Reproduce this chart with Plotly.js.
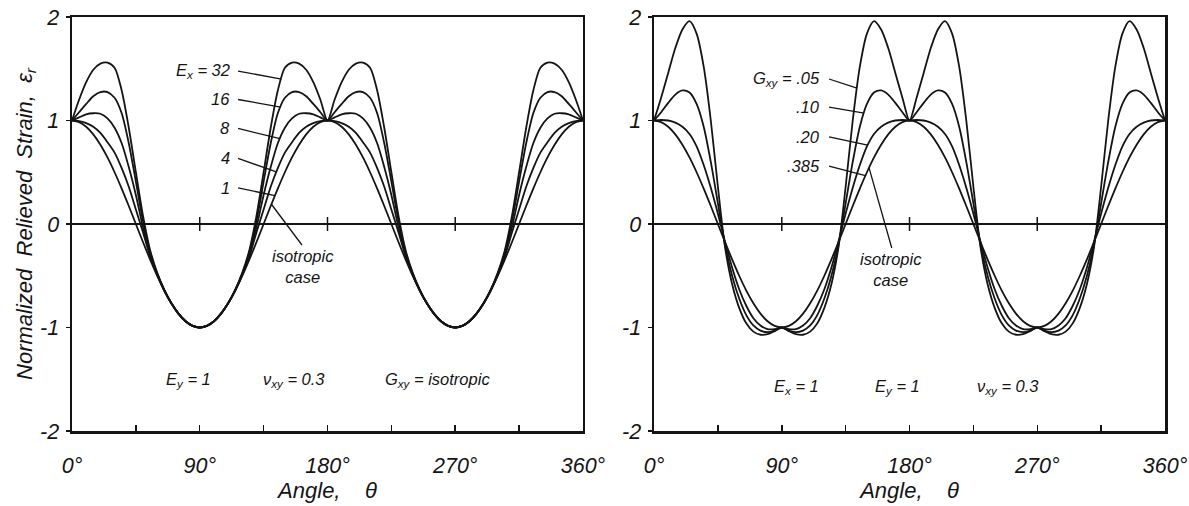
<!DOCTYPE html>
<html>
<head>
<meta charset="utf-8">
<script src="https://cdn.plot.ly/plotly-3.0.1.min.js"></script>
<style>
html,body{margin:0;padding:0;background:#ffffff;}
#chart{width:1189px;height:506px;}
</style>
</head>
<body>
<div id="chart"></div>
<script>
// ---------- data ----------
const angles = [0,5,10,15,20,25,30,35,40,45,50,55,60,65,70,75,80,85,90,
  95,100,105,110,115,120,125,130,135,140,145,150,155,160,165,170,175,180,
  185,190,195,200,205,210,215,220,225,230,235,240,245,250,255,260,265,270,
  275,280,285,290,295,300,305,310,315,320,325,330,335,340,345,350,355,360];

// Left panel: Ey = 1, nu_xy = 0.3, Gxy isotropic
const exNames = ['32','16','8','4','1'];
const ex32 = [1,1.2,1.37,1.49,1.55,1.56,1.51,1.29,0.93,0.50,0.08,-0.25,-0.47,-0.635,-0.766,-0.866,-0.94,-0.985,-1,
  -0.985,-0.94,-0.866,-0.766,-0.635,-0.47,-0.25,0.08,0.50,0.93,1.29,1.51,1.56,1.55,1.49,1.37,1.2,1,
  1.2,1.37,1.49,1.55,1.56,1.51,1.29,0.93,0.50,0.08,-0.25,-0.47,-0.635,-0.766,-0.866,-0.94,-0.985,-1,
  -0.985,-0.94,-0.866,-0.766,-0.635,-0.47,-0.25,0.08,0.50,0.93,1.29,1.51,1.56,1.55,1.49,1.37,1.2,1];
const ex16 = [1,1.08,1.16,1.235,1.275,1.275,1.22,1.07,0.78,0.41,0.03,-0.27,-0.48,-0.64,-0.766,-0.866,-0.94,-0.985,-1,
  -0.985,-0.94,-0.866,-0.766,-0.64,-0.48,-0.27,0.03,0.41,0.78,1.07,1.22,1.275,1.275,1.235,1.16,1.08,1,
  1.08,1.16,1.235,1.275,1.275,1.22,1.07,0.78,0.41,0.03,-0.27,-0.48,-0.64,-0.766,-0.866,-0.94,-0.985,-1,
  -0.985,-0.94,-0.866,-0.766,-0.64,-0.48,-0.27,0.03,0.41,0.78,1.07,1.22,1.275,1.275,1.235,1.16,1.08,1];
const ex8 = [1,1.03,1.06,1.07,1.065,1.02,0.93,0.78,0.55,0.28,-0.03,-0.30,-0.49,-0.64,-0.766,-0.866,-0.94,-0.985,-1,
  -0.985,-0.94,-0.866,-0.766,-0.64,-0.49,-0.30,-0.03,0.28,0.55,0.78,0.93,1.02,1.065,1.07,1.06,1.03,1,
  1.03,1.06,1.07,1.065,1.02,0.93,0.78,0.55,0.28,-0.03,-0.30,-0.49,-0.64,-0.766,-0.866,-0.94,-0.985,-1,
  -0.985,-0.94,-0.866,-0.766,-0.64,-0.49,-0.30,-0.03,0.28,0.55,0.78,0.93,1.02,1.065,1.07,1.06,1.03,1];
const ex4 = [1,0.995,0.975,0.94,0.88,0.79,0.69,0.54,0.36,0.14,-0.08,-0.31,-0.49,-0.643,-0.766,-0.866,-0.94,-0.985,-1,
  -0.985,-0.94,-0.866,-0.766,-0.643,-0.49,-0.31,-0.08,0.14,0.36,0.54,0.69,0.79,0.88,0.94,0.975,0.995,1,
  0.995,0.975,0.94,0.88,0.79,0.69,0.54,0.36,0.14,-0.08,-0.31,-0.49,-0.643,-0.766,-0.866,-0.94,-0.985,-1,
  -0.985,-0.94,-0.866,-0.766,-0.643,-0.49,-0.31,-0.08,0.14,0.36,0.54,0.69,0.79,0.88,0.94,0.975,0.995,1];
const isotropic = [1,0.985,0.94,0.866,0.766,0.643,0.5,0.342,0.174,0,-0.174,-0.342,-0.5,-0.643,-0.766,-0.866,-0.94,-0.985,-1,
  -0.985,-0.94,-0.866,-0.766,-0.643,-0.5,-0.342,-0.174,0,0.174,0.342,0.5,0.643,0.766,0.866,0.94,0.985,1,
  0.985,0.94,0.866,0.766,0.643,0.5,0.342,0.174,0,-0.174,-0.342,-0.5,-0.643,-0.766,-0.866,-0.94,-0.985,-1,
  -0.985,-0.94,-0.866,-0.766,-0.643,-0.5,-0.342,-0.174,0,0.174,0.342,0.5,0.643,0.766,0.866,0.94,0.985,1];

// Right panel: Ex = 1, Ey = 1, nu_xy = 0.3, varying Gxy
const gNames = ['.05','.10','.20','.385'];
const g05 = [1,1.22,1.46,1.70,1.88,1.96,1.84,1.52,1.00,0.36,-0.22,-0.58,-0.81,-0.96,-1.04,-1.07,-1.065,-1.035,-1,
  -1.035,-1.065,-1.07,-1.04,-0.96,-0.81,-0.58,-0.22,0.36,1.00,1.52,1.84,1.96,1.88,1.70,1.46,1.22,1,
  1.22,1.46,1.70,1.88,1.96,1.84,1.52,1.00,0.36,-0.22,-0.58,-0.81,-0.96,-1.04,-1.07,-1.065,-1.035,-1,
  -1.035,-1.065,-1.07,-1.04,-0.96,-0.81,-0.58,-0.22,0.36,1.00,1.52,1.84,1.96,1.88,1.70,1.46,1.22,1];
const g10 = [1,1.08,1.17,1.25,1.29,1.27,1.16,0.94,0.60,0.20,-0.20,-0.50,-0.72,-0.88,-0.98,-1.03,-1.045,-1.03,-1,
  -1.03,-1.045,-1.03,-0.98,-0.88,-0.72,-0.50,-0.20,0.20,0.60,0.94,1.16,1.27,1.29,1.25,1.17,1.08,1,
  1.08,1.17,1.25,1.29,1.27,1.16,0.94,0.60,0.20,-0.20,-0.50,-0.72,-0.88,-0.98,-1.03,-1.045,-1.03,-1,
  -1.03,-1.045,-1.03,-0.98,-0.88,-0.72,-0.50,-0.20,0.20,0.60,0.94,1.16,1.27,1.29,1.25,1.17,1.08,1];
const g20 = [1,1.005,1.0,0.98,0.94,0.87,0.75,0.57,0.35,0.10,-0.17,-0.42,-0.63,-0.79,-0.91,-0.98,-1.015,-1.015,-1,
  -1.015,-1.015,-0.98,-0.91,-0.79,-0.63,-0.42,-0.17,0.10,0.35,0.57,0.75,0.87,0.94,0.98,1.0,1.005,1,
  1.005,1.0,0.98,0.94,0.87,0.75,0.57,0.35,0.10,-0.17,-0.42,-0.63,-0.79,-0.91,-0.98,-1.015,-1.015,-1,
  -1.015,-1.015,-0.98,-0.91,-0.79,-0.63,-0.42,-0.17,0.10,0.35,0.57,0.75,0.87,0.94,0.98,1.0,1.005,1];
const g385 = isotropic;

// ticks
const xTickVals = [0,90,180,270,360];
const xTickText = ['0°','90°','180°','270°','360°'];
const xMinorStep = 45;
const yTickVals = [-2,-1,0,1,2];
const yTickText = ['-2','-1','0','1','2'];
const zeroTickAngles = [90,180,270];
const zeroTickValues = [0,0,0];

// ---------- styling ----------
const FONT = '"Liberation Sans", Arial, Helvetica, sans-serif';
const INK = '#141414';

function curve(y, xa, ya, name){
  return {x: angles, y: y, xaxis: xa, yaxis: ya, type: 'scatter', mode: 'lines', name: name,
    line: {color: INK, width: 1.8, shape: 'spline', smoothing: 0.8}, hoverinfo: 'skip', showlegend: false};
}
function zeroTicks(xa, ya){
  return {x: zeroTickAngles, y: zeroTickValues, xaxis: xa, yaxis: ya, type: 'scatter', mode: 'markers',
    marker: {symbol: 'line-ns', size: 10, line: {color: INK, width: 1.5}}, hoverinfo: 'skip', showlegend: false};
}

const leftSeries = [ex32, ex16, ex8, ex4, isotropic];
const rightSeries = [g05, g10, g20, g385];

const traces = [];
leftSeries.forEach((s, i) => traces.push(curve(s, 'x', 'y', 'Ex = ' + exNames[i])));
rightSeries.forEach((s, i) => traces.push(curve(s, 'x2', 'y2', 'Gxy = ' + gNames[i])));
traces.push(zeroTicks('x', 'y'));
traces.push(zeroTicks('x2', 'y2'));

// linear reading of a series at an angle (used only to attach leader lines)
function valueAt(series, a){
  for (let i = 0; i < angles.length - 1; i++){
    if (a >= angles[i] && a <= angles[i+1]){
      const t = (a - angles[i]) / (angles[i+1] - angles[i]);
      return series[i] + t * (series[i+1] - series[i]);
    }
  }
  return series[series.length - 1];
}

const annFont = {family: FONT, size: 16.5, color: INK, style: 'italic'};
const annotations = [];
const shapes = [];
function label(text, x, y, xa, ya, xanchor){
  annotations.push({text: text, x: x, y: y, xref: xa, yref: ya, showarrow: false,
    xanchor: xanchor || 'center', yanchor: 'middle', font: annFont, align: 'center'});
}
function leader(x0, y0, x1, y1, xa, ya){
  shapes.push({type: 'line', xref: xa, yref: ya, x0: x0, y0: y0, x1: x1, y1: y1,
    line: {color: INK, width: 1.3}});
}

// left panel labels
const exLabelY = [1.478, 1.203, 0.923, 0.633, 0.348];
const exLeaderEnd = [147.5, 147, 146.5, 144, 143];
exNames.forEach((n, i) => {
  const t = (i === 0 ? 'E<sub>x</sub> = ' : '') + n;
  label(t, 113, exLabelY[i], 'x', 'y', 'right');
  leader(117, exLabelY[i], exLeaderEnd[i], valueAt(leftSeries[i], exLeaderEnd[i]), 'x', 'y');
});
leader(140.5, valueAt(isotropic, 140.5), 162, -0.203, 'x', 'y');
label('isotropic<br>case', 162.7, -0.41, 'x', 'y');
label('E<sub>y</sub> = 1', 82, -1.507, 'x', 'y');
label('ν<sub>xy</sub> = 0.3', 156.4, -1.507, 'x', 'y');
label('G<sub>xy</sub> = isotropic', 257.8, -1.507, 'x', 'y');

// right panel labels
const gLabelY = [1.401, 1.130, 0.841, 0.560];
const gLeaderEnd = [143, 148, 150.5, 149];
gNames.forEach((n, i) => {
  const t = (i === 0 ? 'G<sub>xy</sub> = ' : '') + n;
  label(t, 118.4, gLabelY[i], 'x2', 'y2', 'right');
  leader(123.3, gLabelY[i], gLeaderEnd[i], valueAt(rightSeries[i], gLeaderEnd[i]), 'x2', 'y2');
});
leader(151.5, valueAt(isotropic, 151.5), 167.5, -0.232, 'x2', 'y2');
label('isotropic<br>case', 166.8, -0.435, 'x2', 'y2');
label('E<sub>x</sub> = 1', 100.7, -1.575, 'x2', 'y2');
label('E<sub>y</sub> = 1', 171.5, -1.575, 'x2', 'y2');
label('ν<sub>xy</sub> = 0.3', 249.4, -1.575, 'x2', 'y2');

const tickFont = {family: FONT, size: 21.5, color: INK, style: 'italic'};
const titleFont = {family: FONT, size: 22, color: INK, style: 'italic'};
const sp = '\u00a0';

function xAxis(domain, anchor){
  return {domain: domain, anchor: anchor, range: [0, 360], tickmode: 'array', tickvals: xTickVals, ticktext: xTickText,
    ticks: 'inside', ticklen: 6, tickwidth: 1.5, tickcolor: INK,
    minor: {dtick: xMinorStep, tick0: 0, ticks: 'inside', ticklen: 6, tickwidth: 1.5, tickcolor: INK, showgrid: false},
    showline: true, linewidth: 2.5, linecolor: INK,
    mirror: true, showgrid: false, zeroline: false, tickfont: tickFont, ticklabelstandoff: 14, fixedrange: true,
    title: {text: 'Angle,' + sp + sp + sp + sp + 'θ', font: titleFont, standoff: 5}};
}
function yAxis(domain, anchor, withTitle){
  const ax = {domain: domain, anchor: anchor, range: [-2, 2], tickmode: 'array', tickvals: yTickVals, ticktext: yTickText,
    ticks: 'outside', ticklen: 4, tickwidth: 1.5, tickcolor: INK, showline: true, linewidth: 2.5, linecolor: INK,
    mirror: true, showgrid: false, zeroline: true, zerolinecolor: INK, zerolinewidth: 1.6,
    tickfont: tickFont, ticklabelstandoff: 2, fixedrange: true};
  if (withTitle){
    ax.title = {text: 'Normalized' + sp + sp + 'Relieved' + sp + sp + 'Strain,' + sp + sp + 'ε<sub>r</sub>', font: titleFont, standoff: 2};
  }
  return ax;
}

const layout = {
  width: 1189, height: 506,
  margin: {l: 72, r: 24, t: 17, b: 75},
  paper_bgcolor: '#ffffff', plot_bgcolor: '#ffffff',
  showlegend: false,
  xaxis: xAxis([0, 0.4675], 'y'),
  yaxis: yAxis([0, 1], 'x', true),
  xaxis2: xAxis([0.5325, 1], 'y2'),
  yaxis2: yAxis([0, 1], 'x2', false),
  annotations: annotations,
  shapes: shapes,
  font: {family: FONT, color: INK}
};

Plotly.newPlot('chart', traces, layout, {staticPlot: true, displayModeBar: false});
</script>
</body>
</html>
